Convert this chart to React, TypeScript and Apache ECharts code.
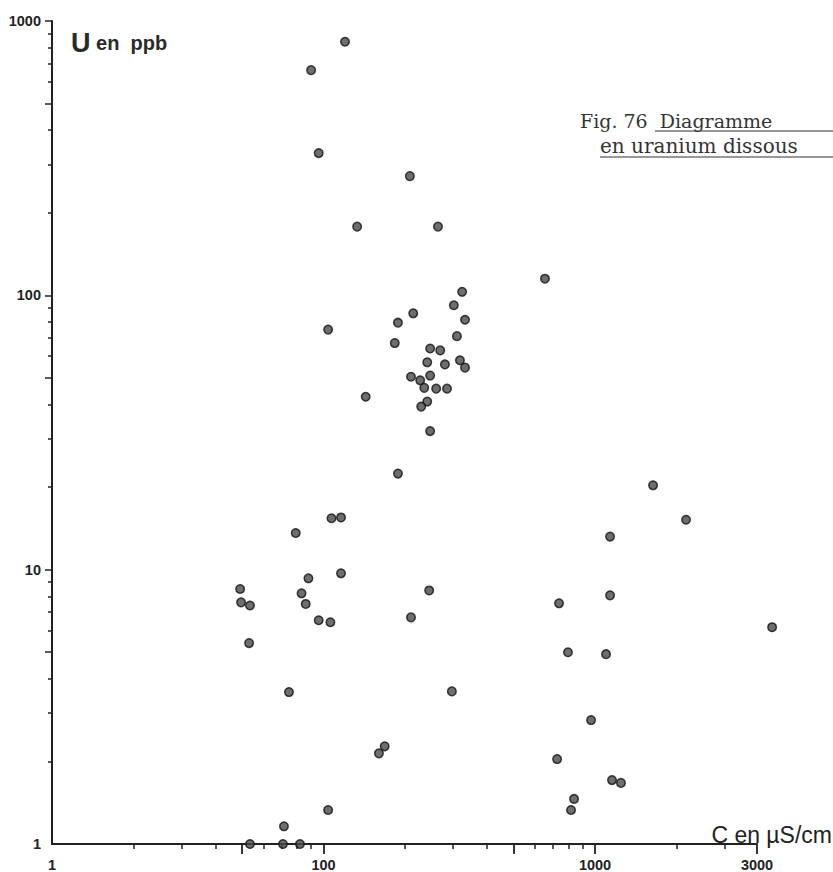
import React, { useEffect, useRef } from "react";
import * as echarts from "echarts";

// Conductivity (µS/cm) and dissolved uranium (ppb)
const conductivity = [
  120, 90, 96, 208, 133, 264, 654, 324, 302, 214,
  332, 188, 104, 310, 183, 247, 269, 241, 280, 318,
  332, 210, 227, 247, 235, 260, 285, 143, 241, 229,
  247, 188, 1636, 2164, 107, 116, 79, 1136, 116, 88,
  49.3, 245, 83, 49.7, 53.6, 86, 1136, 737, 210, 96,
  106, 4490, 53.2, 795, 1098, 74.6, 297, 967, 168, 160,
  725, 837, 816, 1155, 1246, 104, 71.5, 53.6, 70.9, 81.9,
];
const uranium = [
  840, 662, 330, 272, 178, 178, 115, 103, 92, 86,
  81.5, 79.5, 75, 71, 67, 64, 63, 57, 56, 58,
  54.5, 50.5, 49, 51, 46, 45.7, 45.7, 42.7, 41, 39.3,
  32, 22.4, 20.3, 15.2, 15.4, 15.5, 13.6, 13.2, 9.7, 9.3,
  8.5, 8.4, 8.2, 7.6, 7.4, 7.5, 8.06, 7.54, 6.7, 6.54,
  6.43, 6.17, 5.4, 5.0, 4.92, 3.58, 3.6, 2.83, 2.27, 2.14,
  2.04, 1.46, 1.33, 1.71, 1.67, 1.33, 1.16, 1, 1, 1,
];

const X_MIN = 10;
const X_MAX = 3950;
const Y_MIN = 1;
const Y_MAX = 1000;

const xLabelValues = [10, 100, 1000, 3950];
const xLabelTexts = ["1", "100", "1000", "3000"];
const xMinorTicks = [20, 30, 40, 60, 70, 80, 90, 200, 300, 400, 600, 700, 800, 900, 2000, 3000];
const xMajorTicks = [50, 100, 500, 1000, 3950];

const yLabelValues = [1, 10, 100, 1000];
const yLabelTexts = ["1", "10", "100", "1000"];
const yMinorTicks = [2, 3, 4, 6, 7, 8, 9, 20, 30, 40, 60, 70, 80, 90, 200, 300, 400, 600, 700, 800, 900];
const yMajorTicks = [5, 10, 50, 100, 500, 1000];

const INK = "#222";

function lookup(values: number[], texts: string[], v: number) {
  const i = values.findIndex((t) => Math.abs(Math.log10(t) - Math.log10(v)) < 0.01);
  return i >= 0 ? texts[i] : "";
}

export default function App() {
  const ref = useRef<HTMLDivElement>(null);

  useEffect(() => {
    if (!ref.current) return;
    const chart = echarts.init(ref.current, undefined, { renderer: "svg" });

    const inside: number[][] = [];
    const outside: number[][] = [];
    conductivity.forEach((c, i) => {
      (c <= X_MAX ? inside : outside).push([c, uranium[i]]);
    });

    const pointStyle = { color: "#4a4a4a", borderColor: "#111", borderWidth: 1.5 };
    const labelFont = {
      fontFamily: "Liberation Sans",
      fontWeight: "bold" as const,
      fontSize: 14.5,
      color: INK,
    };

    chart.setOption({
      animation: false,
      backgroundColor: "#fff",
      grid: { left: 52, right: 76, top: 21, bottom: 27, containLabel: false },
      xAxis: [
        {
          type: "log",
          logBase: 10,
          min: X_MIN,
          max: X_MAX,
          axisLine: { show: true, lineStyle: { color: INK, width: 2 } },
          axisTick: {
            show: true,
            length: 5,
            customValues: xMinorTicks,
            lineStyle: { color: INK, width: 1.5 },
          },
          axisLabel: {
            show: true,
            customValues: xLabelValues,
            margin: 13,
            formatter: (v: number) => lookup(xLabelValues, xLabelTexts, v),
            ...labelFont,
          },
          splitLine: { show: false },
          minorTick: { show: false },
        },
        {
          type: "log",
          logBase: 10,
          min: X_MIN,
          max: X_MAX,
          position: "bottom",
          axisLine: { show: false },
          axisTick: {
            show: true,
            length: 10,
            customValues: xMajorTicks,
            lineStyle: { color: INK, width: 1.8 },
          },
          axisLabel: { show: false },
          splitLine: { show: false },
        },
      ],
      yAxis: [
        {
          type: "log",
          logBase: 10,
          min: Y_MIN,
          max: Y_MAX,
          axisLine: { show: true, lineStyle: { color: INK, width: 2 } },
          axisTick: {
            show: true,
            length: 4,
            customValues: yMinorTicks,
            lineStyle: { color: INK, width: 1.5 },
          },
          axisLabel: {
            show: true,
            customValues: yLabelValues,
            margin: 11,
            formatter: (v: number) => lookup(yLabelValues, yLabelTexts, v),
            ...labelFont,
          },
          splitLine: { show: false },
        },
        {
          type: "log",
          logBase: 10,
          min: Y_MIN,
          max: Y_MAX,
          position: "left",
          axisLine: { show: false },
          axisTick: {
            show: true,
            length: 7,
            customValues: yMajorTicks,
            lineStyle: { color: INK, width: 1.5 },
          },
          axisLabel: { show: false },
          splitLine: { show: false },
        },
      ],
      series: [
        {
          type: "scatter",
          xAxisIndex: 0,
          yAxisIndex: 0,
          symbol: "circle",
          symbolSize: 8.5,
          clip: true,
          itemStyle: pointStyle,
          data: inside,
        },
        {
          type: "scatter",
          xAxisIndex: 0,
          yAxisIndex: 0,
          symbol: "circle",
          symbolSize: 8.5,
          clip: false,
          itemStyle: pointStyle,
          data: outside,
        },
      ],
      graphic: [
        {
          type: "text",
          left: 71,
          top: 29,
          style: {
            text: "{u|U}{r| en  ppb}",
            fill: "#2a2a2a",
            rich: {
              u: { fontFamily: "Liberation Sans", fontWeight: "bold", fontSize: 27, fill: "#2a2a2a" },
              r: { fontFamily: "Liberation Sans", fontWeight: "bold", fontSize: 20, fill: "#2a2a2a" },
            },
          },
        },
        {
          type: "text",
          x: 832,
          y: 835,
          style: {
            text: "C en µS/cm",
            align: "right",
            verticalAlign: "middle",
            fontFamily: "Liberation Sans",
            fontSize: 23,
            fill: "#222",
          },
        },
        {
          type: "text",
          x: 580,
          y: 121,
          style: {
            text: "Fig. 76  Diagramme",
            verticalAlign: "middle",
            fontFamily: "DejaVu Serif",
            fontSize: 19,
            fill: "#333",
          },
        },
        {
          type: "line",
          shape: { x1: 655, y1: 131, x2: 833, y2: 131 },
          style: { stroke: "#333", lineWidth: 1.2 },
        },
        {
          type: "text",
          x: 600,
          y: 146,
          style: {
            text: "en uranium dissous",
            verticalAlign: "middle",
            fontFamily: "DejaVu Serif",
            fontSize: 20,
            fill: "#333",
          },
        },
        {
          type: "line",
          shape: { x1: 600, y1: 157, x2: 833, y2: 157 },
          style: { stroke: "#333", lineWidth: 1.2 },
        },
      ],
    });

    return () => chart.dispose();
  }, []);

  return (
    <div
      ref={ref}
      style={{ position: "absolute", left: 0, top: 0, width: 833, height: 872, background: "#fff" }}
    />
  );
}
